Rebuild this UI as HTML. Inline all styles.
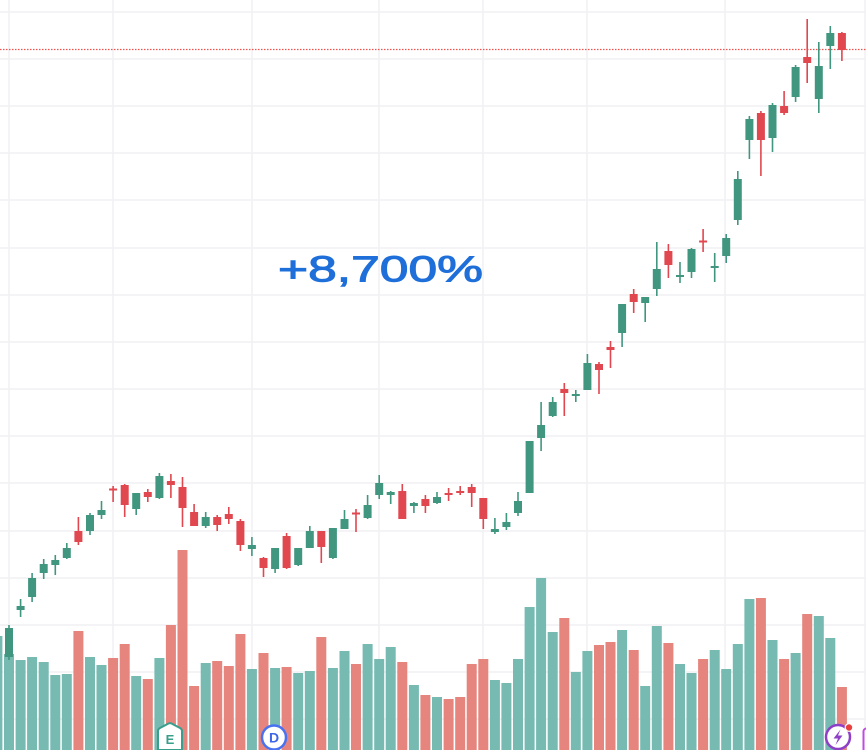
<!DOCTYPE html>
<html><head><meta charset="utf-8"><style>
html,body{margin:0;padding:0;background:#fff;}
svg{display:block;}
</style></head><body>
<svg width="866" height="750" viewBox="0 0 866 750" xmlns="http://www.w3.org/2000/svg">
<rect width="866" height="750" fill="#ffffff"/>
<g stroke="#f1f1f3" stroke-width="1.5" fill="none">
<path d="M0 12H866M0 59H866M0 106H866M0 153H866M0 200H866M0 248H866M0 295H866M0 342H866M0 389H866M0 436H866M0 483H866M0 531H866M0 578H866M0 625H866M0 672H866M0 719H866"/>
<path d="M9 0V750M113 0V750M252 0V750M379 0V750M483 0V750M587 0V750M725 0V750M865 0V750"/>
</g>
<line x1="0" y1="49.5" x2="866" y2="49.5" stroke="#ef5350" stroke-width="1.2" stroke-dasharray="1.5 1.5"/>
<!-- volume -->
<path fill="none" stroke="#76bab2" stroke-width="10" d="M-2.6 636V750 M9 654V750 M20.6 660V750 M32.1 657V750 M43.7 662V750 M55.3 675V750 M66.8 674V750 M90 657V750 M101.5 665V750 M136.2 676V750 M159.4 658V750 M205.7 663V750 M251.9 669V750 M275.1 668V750 M298.2 673V750 M309.8 671V750 M332.9 668V750 M344.5 651V750 M367.6 644V750 M379.2 659V750 M390.7 647V750 M413.9 685V750 M437 697V750 M494.9 680V750 M506.4 683V750 M518 659V750 M529.6 607V750 M541.1 578V750 M552.7 632V750 M575.8 672V750 M587.4 651V750 M622.1 630V750 M645.2 686V750 M656.8 626V750 M680 664V750 M691.5 673V750 M714.7 650V750 M726.2 669V750 M737.8 644V750 M749.4 599V750 M772.5 640V750 M795.6 653V750 M818.8 616V750 M830.3 638V750"/>
<path fill="none" stroke="#e5857e" stroke-width="10" d="M78.4 631V750 M113.1 658V750 M124.7 644V750 M147.8 679V750 M170.9 625V750 M182.5 550V750 M194.1 686V750 M217.2 661V750 M228.8 666V750 M240.4 634V750 M263.5 653V750 M286.6 667V750 M321.3 637V750 M356 664V750 M402.3 662V750 M425.4 695V750 M448.6 699V750 M460.2 697V750 M471.7 664V750 M483.3 659V750 M564.3 618V750 M599 645V750 M610.5 642V750 M633.7 650V750 M668.4 643V750 M703.1 659V750 M760.9 598V750 M784.1 659V750 M807.2 614V750 M841.9 687V750"/>
<!-- candles green -->
<path fill="none" stroke="#41967f" stroke-width="1.6" d="M9 625V660 M20.6 599V617 M32.1 573V602 M43.7 559V579 M55.3 555V575 M66.8 543V559 M90 513V535 M101.5 501V519 M136.2 493V515 M159.4 473V499 M205.7 512V528 M251.9 537V556 M275.1 548V573 M298.2 548V566 M309.8 526V548 M332.9 528V559 M344.5 510V529 M367.6 495V519 M379.2 475V499 M390.7 491V504 M413.9 502V513 M437 492V504 M494.9 518V534 M506.4 513V530 M518 492V516 M529.6 441V493 M541.1 402V451 M552.7 397V417 M575.8 390V402 M587.4 354V390 M622.1 304V347 M645.2 297V322 M656.8 242V296 M680 262V283 M691.5 248V278 M714.7 253V282 M726.2 234V263 M737.8 171V225 M749.4 116V159 M772.5 103V152 M795.6 65V102 M818.8 42V113 M830.3 26V69"/>
<path fill="none" stroke="#41967f" stroke-width="8" d="M9 628V657 M20.6 606V610 M32.1 578V597 M43.7 564V573 M55.3 560V565 M66.8 548V558 M90 515V531 M101.5 510V515 M136.2 493V509 M159.4 476V498 M205.7 517V526 M251.9 545V549 M275.1 548V569 M298.2 548V565 M309.8 531V548 M332.9 528V558 M344.5 519V529 M367.6 505V518 M379.2 483V495 M390.7 492V495 M413.9 503V506 M437 497V503 M494.9 529V532 M506.4 522V527 M518 501V513 M529.6 441V493 M541.1 425V438 M552.7 402V416 M575.8 394V396 M587.4 363V390 M622.1 304V333 M645.2 297V303 M656.8 269V289 M680 275V277 M691.5 249V272 M714.7 266V268 M726.2 238V256 M737.8 179V220 M749.4 119V140 M772.5 105V138 M795.6 67V97 M818.8 66V99 M830.3 33V46"/>
<!-- candles red -->
<path fill="none" stroke="#e0474f" stroke-width="1.6" d="M78.4 517V545 M113.1 486V502 M124.7 484V517 M147.8 489V502 M170.9 474V498 M182.5 477V527 M194.1 504V526 M217.2 515V531 M228.8 507V524 M240.4 519V551 M263.5 557V577 M286.6 533V569 M321.3 531V563 M356 509V532 M402.3 484V519 M425.4 495V513 M448.6 488V501 M460.2 486V495 M471.7 484V507 M483.3 498V529 M564.3 383V416 M599 362V394 M610.5 341V368 M633.7 289V313 M668.4 244V278 M703.1 229V252 M760.9 111V176 M784.1 91V115 M807.2 19V83 M841.9 32V61"/>
<path fill="none" stroke="#e0474f" stroke-width="8" d="M78.4 531V542 M113.1 488.5V490.5 M124.7 485V505 M147.8 492V497 M170.9 481V485 M182.5 487V508 M194.1 512V526 M217.2 517V525 M228.8 514V519 M240.4 521V545 M263.5 558V568 M286.6 536V568 M321.3 531V547 M356 512.5V514.5 M402.3 491V519 M425.4 499V506 M448.6 493V495 M460.2 491V493 M471.7 487V493 M483.3 498V519 M564.3 389V393 M599 364V370 M610.5 347V350 M633.7 294V302 M668.4 251V265 M703.1 240.5V242.5 M760.9 113V140 M784.1 106V113 M807.2 57V63 M841.9 33V50"/>
<!-- headline -->
<text x="278" y="281.5" font-family="Liberation Sans, sans-serif" font-size="36.5" fill="#1e6fd9" stroke="#1e6fd9" stroke-width="1" textLength="205" lengthAdjust="spacingAndGlyphs">+8,700%</text>
<!-- E badge -->
<path d="M158 750V731Q158 729 160 728L168.5 723.5Q170 722.8 171.5 723.5L180 728Q182 729 182 731V750Z" fill="#ffffff" stroke="#3a9e8c" stroke-width="2"/>
<text x="170" y="744" font-family="Liberation Sans, sans-serif" font-size="13" font-weight="bold" fill="#3a9e8c" text-anchor="middle">E</text>
<!-- D badge -->
<circle cx="274" cy="737.5" r="12" fill="#ffffff" stroke="#4a72f0" stroke-width="2.5"/>
<text x="274" y="742.5" font-family="Liberation Sans, sans-serif" font-size="14" font-weight="bold" fill="#3d66e8" text-anchor="middle">D</text>
<!-- lightning badge -->
<circle cx="838" cy="737" r="12" fill="#ffffff" stroke="#8e3fc7" stroke-width="2.5"/>
<path d="M840.5 729.5L833.5 738.5H838L835.5 745L842.5 735.5H838Z" fill="#8e3fc7"/>
<circle cx="849" cy="727.5" r="3.8" fill="#e8403f" stroke="#ffffff" stroke-width="1.2"/>
<rect x="863.5" y="728.5" width="10" height="26" rx="3" fill="#ffffff" stroke="#c24ae0" stroke-width="2"/>
</svg>
</body></html>
